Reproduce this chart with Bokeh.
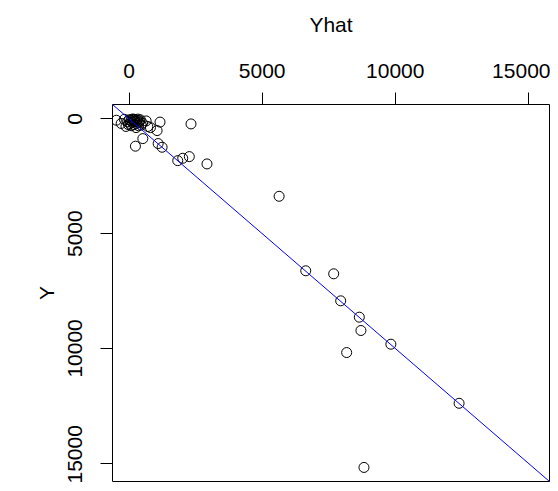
from bokeh.plotting import figure
from bokeh.models import Range1d, FixedTicker, Slope, ColumnDataSource
from bokeh.embed import file_html
from bokeh.resources import INLINE

# Fitted values (Yhat) and observed values (Y)
yhat = [-480, -300, -120, -180, -60, 0, 30, 60, 100, 130, 160, 190, 220, 250, 280,
        300, 330, 360, 390, 420, 450, 200, 150, 80, -30, 640, 700, 500, 350, 260,
        800, 1160, 1050, 2325, 514, 236, 1090, 1238, 1826, 2014, 2261, 2925,
        5636, 6637, 7687, 7950, 8650, 8711, 8175, 9836, 12400, 8825]
y_obs = [60, 200, 330, 20, 120, 40, 200, 80, 20, 150, 60, 250, 30, 120, 200,
         60, 10, 150, 90, 40, 270, 100, 5, 300, 250, 90, 330, 180, 300, 380,
         380, 140, 510, 220, 860, 1190, 1075, 1236, 1820, 1716, 1644, 1963,
         3373, 6618, 6750, 7927, 8639, 9220, 10180, 9817, 12391, 15185]
tick_values = [0, 5000, 10000, 15000]
axis_lims = [-626, 15798]

src = ColumnDataSource(data=dict(x=yhat, y=y_obs))

p = figure(width=550, height=483, output_backend="svg", toolbar_location=None,
           x_axis_location="above", y_axis_location="left",
           x_range=Range1d(axis_lims[0], axis_lims[1]),
           y_range=Range1d(axis_lims[1], axis_lims[0]),
           min_border_left=112, min_border_top=104,
           min_border_right=1, min_border_bottom=2)

p.grid.visible = False
p.outline_line_color = "black"
p.outline_line_width = 1
p.outline_line_alpha = 1.0
p.background_fill_color = "white"
p.border_fill_color = "white"

font = "Liberation Sans"
for ax in (p.xaxis[0], p.yaxis[0]):
    ax.ticker = FixedTicker(ticks=tick_values)
    ax.axis_line_color = None
    ax.major_tick_out = 12
    ax.major_tick_in = 0
    ax.major_tick_line_color = "black"
    ax.minor_tick_line_color = None
    ax.major_label_text_font = font
    ax.major_label_text_font_size = "21px"
    ax.major_label_text_color = "black"
    ax.axis_label_text_font = font
    ax.axis_label_text_font_size = "21px"
    ax.axis_label_text_font_style = "normal"
    ax.axis_label_text_color = "black"

p.xaxis[0].axis_label = "Yhat"
p.xaxis[0].major_label_standoff = 15
p.xaxis[0].axis_label_standoff = 25
p.yaxis[0].axis_label = "Y"
p.yaxis[0].major_label_orientation = "vertical"
p.yaxis[0].major_label_standoff = 18
p.yaxis[0].axis_label_standoff = 8

p.add_layout(Slope(gradient=1, y_intercept=0, line_color="#0000FF", line_width=1))
p.scatter("x", "y", source=src, size=10, marker="circle",
          fill_color=None, line_color="black", line_width=1)

open("out.html", "w").write(file_html(p, INLINE))
